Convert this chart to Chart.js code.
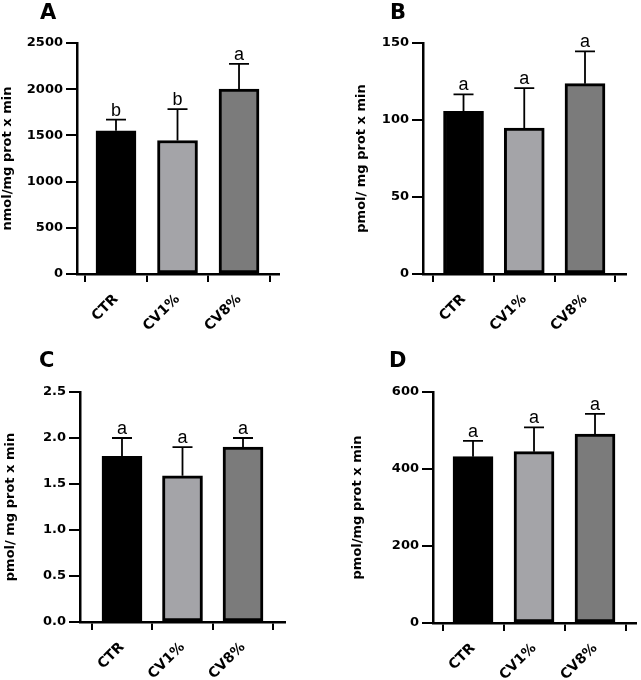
<!DOCTYPE html>
<html>
<head>
<meta charset="utf-8">
<script src="https://cdn.jsdelivr.net/npm/chart.js@4.4.0/dist/chart.umd.min.js"></script>
<style>
  body { margin: 0; background: #fff; }
  #wrap { position: relative; width: 641px; height: 680px; }
  canvas { position: absolute; }
  .lbl { position: absolute; font: bold 21px "DejaVu Sans", sans-serif; line-height: 21px; color: #000; }
</style>
</head>
<body>
<div id="wrap">
  <canvas id="cA" width="320" height="340" style="left:0;top:0"></canvas>
  <canvas id="cB" width="321" height="340" style="left:320px;top:0"></canvas>
  <canvas id="cC" width="320" height="340" style="left:0;top:340px"></canvas>
  <canvas id="cD" width="321" height="340" style="left:320px;top:340px"></canvas>
  <div class="lbl" style="left:40px;top:2px">A</div>
  <div class="lbl" style="left:390px;top:2px">B</div>
  <div class="lbl" style="left:39px;top:350px">C</div>
  <div class="lbl" style="left:389px;top:350px">D</div>
</div>
<script>
const categories = ['CTR', 'CV1%', 'CV8%'];
const barColors = ['#000000', '#a4a4a8', '#7b7b7b'];

// panel A
const meanA = [1550, 1445, 2000];
const errA = [120, 340, 275];
const letterA = ['b', 'b', 'a'];
// panel B
const meanB = [105.6, 94.7, 123.6];
const errB = [11, 26, 21];
const letterB = ['a', 'a', 'a'];
// panel C
const meanC = [1.8, 1.59, 1.9];
const errC = [0.2, 0.31, 0.1];
const letterC = ['a', 'a', 'a'];
// panel D
const meanD = [432, 445, 491];
const errD = [41, 63, 52];
const letterD = ['a', 'a', 'a'];

const BOLD = '"DejaVu Sans", sans-serif';
const PLAIN = '"Liberation Sans", Arial, sans-serif';

// error bars (upward only) and significance letters
const errorBarPlugin = {
  id: 'errorBars',
  afterDatasetsDraw(chart) {
    const { ctx, scales: { x, y } } = chart;
    const p = chart.options.plugins.errorBars;
    ctx.save();
    ctx.strokeStyle = '#000';
    ctx.lineWidth = 1.8;
    ctx.fillStyle = '#000';
    ctx.font = '18px ' + PLAIN;
    ctx.textAlign = 'center';
    ctx.textBaseline = 'alphabetic';
    p.mean.forEach((m, i) => {
      const px = x.getPixelForValue(i);
      const y0 = y.getPixelForValue(m);
      const y1 = y.getPixelForValue(m + p.err[i]);
      ctx.beginPath();
      ctx.moveTo(px, y0);
      ctx.lineTo(px, y1);
      ctx.moveTo(px - 10, y1);
      ctx.lineTo(px + 10, y1);
      ctx.stroke();
      ctx.fillText(p.letters[i], px, y1 - 4);
    });
    ctx.restore();
  }
};

function makePanel(id, cfg) {
  const canvas = document.getElementById(id);
  const W = canvas.width, H = canvas.height;
  new Chart(canvas, {
    type: 'bar',
    data: {
      datasets: [{
        data: cfg.mean.map((v, i) => ({ x: i, y: v })),
        backgroundColor: barColors,
        borderColor: '#000',
        borderWidth: 3,
        borderSkipped: false,
        barThickness: 40,
      }],
    },
    options: {
      responsive: false,
      animation: false,
      devicePixelRatio: 1,
      layout: { padding: { left: 0, top: cfg.top, right: W - cfg.right, bottom: 0 } },
      plugins: {
        legend: { display: false },
        tooltip: { enabled: false },
        errorBars: { mean: cfg.mean, err: cfg.err, letters: cfg.letters },
      },
      scales: {
        x: {
          type: 'linear',
          min: cfg.xmin,
          max: cfg.xmax,
          offset: false,
          afterBuildTicks: (s) => { s.ticks = [0, 1, 2].map(v => ({ value: v })); },
          afterFit: (s) => { s.height = H - cfg.bottom; },
          ticks: {
            autoSkip: false,
            minRotation: 45,
            maxRotation: 45,
            padding: 9,
            color: '#000',
            font: { size: 14, weight: 'bold', family: BOLD },
            callback: (v) => categories[v],
          },
          grid: { drawOnChartArea: false, drawTicks: true, tickLength: 8, color: '#000', lineWidth: 2 },
          border: { color: '#000', width: 2.5 },
        },
        y: {
          min: 0,
          max: cfg.ymax,
          afterFit: (s) => { s.width = cfg.left; },
          ticks: {
            stepSize: cfg.step,
            padding: 3,
            color: '#000',
            font: { size: 13, weight: 'bold', family: BOLD },
            callback: cfg.fmt || ((v) => v),
          },
          grid: { drawOnChartArea: false, drawTicks: true, tickLength: 11, color: '#000', lineWidth: 2 },
          border: { color: '#000', width: 2.5 },
          title: {
            display: true,
            text: cfg.title,
            color: '#000',
            font: { size: 13, weight: 'bold', family: BOLD },
            padding: { top: cfg.titlePad, bottom: 0 },
          },
        },
      },
    },
    plugins: [errorBarPlugin],
  });
}

makePanel('cA', {
  mean: meanA, err: errA, letters: letterA,
  left: 77, right: 279, top: 43, bottom: 274, xmin: -0.634, xmax: 2.65,
  ymax: 2500, step: 500, title: 'nmol/mg prot x min', titlePad: 0,
});
makePanel('cB', {
  mean: meanB, err: errB, letters: letterB,
  left: 103, right: 306, top: 43, bottom: 274, xmin: -0.667, xmax: 2.675,
  ymax: 150, step: 50, title: 'pmol/ mg prot x min', titlePad: 34,
});
makePanel('cC', {
  mean: meanC, err: errC, letters: letterC,
  left: 80, right: 285, top: 52, bottom: 282, xmin: -0.694, xmax: 2.694,
  ymax: 2.5, step: 0.5, title: 'pmol/ mg prot x min', titlePad: 3,
  fmt: (v) => v.toFixed(1),
});
makePanel('cD', {
  mean: meanD, err: errD, letters: letterD,
  left: 113, right: 316, top: 52, bottom: 283, xmin: -0.656, xmax: 2.672,
  ymax: 600, step: 200, title: 'pmol/mg prot x min', titlePad: 30,
});
</script>
</body>
</html>
